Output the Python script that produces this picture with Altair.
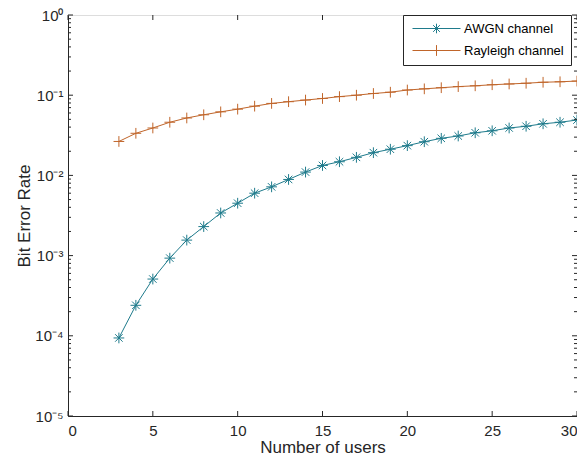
import altair as alt
import pandas as pd

users = list(range(3, 31))
awgn = [9.4e-5, 2.4e-4, 5.1e-4, 9.3e-4, 1.56e-3, 2.3e-3, 3.4e-3, 4.5e-3, 6.0e-3, 7.2e-3,
        8.9e-3, 1.1e-2, 1.33e-2, 1.48e-2, 1.68e-2, 1.92e-2, 2.12e-2, 2.35e-2, 2.63e-2, 2.9e-2,
        3.1e-2, 3.4e-2, 3.6e-2, 3.9e-2, 4.1e-2, 4.4e-2, 4.6e-2, 4.9e-2]
rayleigh = [2.65e-2, 3.35e-2, 3.9e-2, 4.6e-2, 5.2e-2, 5.7e-2, 6.2e-2, 6.7e-2, 7.3e-2, 7.9e-2,
            8.3e-2, 8.7e-2, 9.1e-2, 9.6e-2, 0.100, 0.105, 0.109, 0.116, 0.120, 0.124,
            0.128, 0.131, 0.135, 0.138, 0.141, 0.145, 0.147, 0.150]
series_names = ["AWGN channel", "Rayleigh channel"]
series_colors = ["#1f7b8c", "#c0652a"]

x_major = [0, 5, 10, 15, 20, 25, 30]
y_major = [1e-5, 1e-4, 1e-3, 1e-2, 1e-1, 1e0]
y_minor = [m * 10.0 ** k for k in range(-5, 0) for m in range(2, 10)]

W, H = 509, 401

df = pd.DataFrame({
    "users": users * 2,
    "ber": awgn + rayleigh,
    "series": [series_names[0]] * len(users) + [series_names[1]] * len(users),
})

ast = "M-1,0L1,0M0,-1L0,1M-0.7,-0.7L0.7,0.7M-0.7,0.7L0.7,-0.7"
plus = "M-1,0L1,0M0,-1L0,1"
leg_ast = "M-4,0L4,0M-0.8,0L0.8,0M0,-0.8L0,0.8M-0.56,-0.56L0.56,0.56M-0.56,0.56L0.56,-0.56"
leg_plus = "M-4,0L4,0M0,-0.9L0,0.9"

xs = alt.Scale(domain=[0, 30], nice=False)
ys = alt.Scale(type="log", domain=[1e-5, 1], nice=False)

label_expr = ("datum.value >= 0.5 ? '10⁰' : datum.value >= 0.05 ? '10⁻¹' : "
              "datum.value >= 0.005 ? '10⁻²' : datum.value >= 0.0005 ? '10⁻³' : "
              "datum.value >= 0.00005 ? '10⁻⁴' : '10⁻⁵'")

axis_common = dict(labelFont="Liberation Sans", titleFont="Liberation Sans",
                   labelColor="#262626", titleColor="#262626", domainColor="#262626",
                   labelFontSize=15, titleFontSize=17, titleFontWeight="normal",
                   ticks=False, grid=False)

color_scale = alt.Scale(domain=series_names, range=series_colors)

lines = alt.Chart(df).mark_line(strokeWidth=1).encode(
    x=alt.X("users:Q", scale=xs, title="Number of users",
            axis=alt.Axis(values=x_major, labelPadding=7, titlePadding=1, **axis_common)),
    y=alt.Y("ber:Q", scale=ys, title="Bit Error Rate",
            axis=alt.Axis(values=y_major, labelExpr=label_expr, labelPadding=5,
                          titlePadding=1, **axis_common)),
    color=alt.Color("series:N", scale=color_scale, legend=None),
)

points = alt.Chart(df).mark_point(filled=False, strokeWidth=1, size=115, opacity=1).encode(
    x=alt.X("users:Q", scale=xs),
    y=alt.Y("ber:Q", scale=ys),
    color=alt.Color("series:N", scale=color_scale, legend=None),
    shape=alt.Shape("series:N", scale=alt.Scale(domain=series_names, range=[ast, plus]), legend=None),
)

shape_expr = "datum.value === '%s' ? '%s' : '%s'" % (series_names[0], leg_ast, leg_plus)

legend_layer = alt.Chart(df).transform_filter("datum.users < 0").mark_point(
    filled=False, strokeWidth=1, size=144).encode(
    x=alt.X("users:Q", scale=xs),
    y=alt.Y("ber:Q", scale=ys),
    color=alt.Color("series:N", scale=color_scale,
                    legend=alt.Legend(title=None, orient="none", legendX=335, legendY=0,
                                      symbolType=alt.ExprRef(expr=shape_expr),
                                      symbolSize=144, symbolStrokeWidth=1,
                                      symbolOffset=20, labelOffset=21, symbolOpacity=1,
                                      symbolFillColor="transparent",
                                      labelFont="Liberation Sans", labelFontSize=13,
                                      labelColor="#000000", padding=7, rowPadding=7,
                                      fillColor="white", strokeColor="#262626")),
)

# inward tick marks (positions from the scales)
yt_major = pd.DataFrame({"v": y_major})
yt_minor = pd.DataFrame({"v": y_minor})
xt = pd.DataFrame({"v": x_major})
tick_color = "#262626"

def ytick(data, x0, x1):
    return alt.Chart(data).mark_rule(color=tick_color, strokeWidth=1).encode(
        y=alt.Y("v:Q", scale=ys), x=alt.value(x0), x2=alt.value(x1))

def xtick(data, y0, y1):
    return alt.Chart(data).mark_rule(color=tick_color, strokeWidth=1).encode(
        x=alt.X("v:Q", scale=xs), y=alt.value(y0), y2=alt.value(y1))

ticks = [
    ytick(yt_major, 0, 5), ytick(yt_minor, 0, 3),
    ytick(yt_major, W, W - 5), ytick(yt_minor, W, W - 3),
    xtick(xt, H, H - 5), xtick(xt, 0, 5),
]

chart = alt.layer(lines, points, legend_layer, *ticks).resolve_scale(
    shape="independent", color="independent"
).properties(
    width=W, height=H,
    autosize=alt.AutoSizeParams(type="none"),
    padding={"left": 60, "top": 7, "right": 0, "bottom": 42},
).configure_view(stroke="#262626", strokeWidth=1).configure(background="white")

chart.save("out.html", embed_options={"renderer": "svg", "actions": False})
